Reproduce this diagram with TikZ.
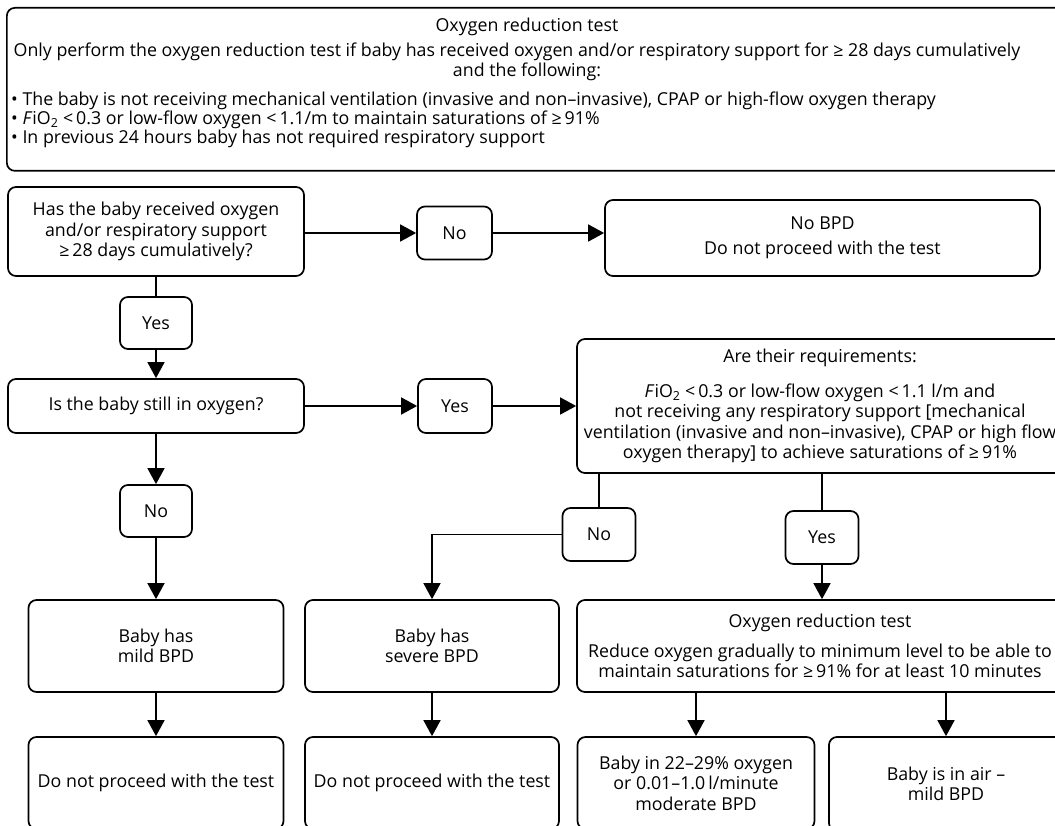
\documentclass[tikz,border=0pt]{standalone}
\usepackage{fontspec}
\setmainfont{Open Sans}
\usetikzlibrary{arrows.meta}
\begin{document}
\begin{tikzpicture}[x=1pt,y=-1pt,
  font=\fontsize{17.8}{20.5}\selectfont,
  box/.style={draw, line width=1.7pt, rounded corners=8pt, align=center, inner sep=0pt},
  txt/.style={inner sep=0pt, align=center},
  ln/.style={line width=1.6pt},
  arr/.style={line width=1.6pt, -{Triangle[length=16pt,width=17pt]}}]
\useasboundingbox (0,0) rectangle (1055,826);
\clip (0,0) rectangle (1055,826);
\fill[white] (0,0) rectangle (1055,826);
% top box
\node[box, minimum width=1060pt, minimum height=163pt, anchor=north west] (top) at (6,7) {};
\node[txt] (t1) at (527,27) {Oxygen reduction test};
\node[txt] (t2) at (517,52) {Only perform the oxygen reduction test if baby has received oxygen and/or respiratory support for ≥ 28 days cumulatively};
\node[txt] (t3) at (527,72) {and the following:};
\node[txt, anchor=west] (t4) at (11,101) {• The baby is not receiving mechanical ventilation (invasive and non–invasive), CPAP or high-flow oxygen therapy};
\node[txt, anchor=west] (t5) at (11,120) {• \textit{F}iO\textsubscript{2} <\,0.3 or low-flow oxygen <\,1.1/m to maintain saturations of ≥\,91\%};
\node[txt, anchor=west] (t6) at (11,139) {• In previous 24 hours baby has not required respiratory support};
% flow boxes
\node[box, minimum width=296pt, minimum height=89pt] (A) at (156,231.5) {Has the baby received oxygen\\and/or respiratory support\\≥\,28 days cumulatively?};
\node[box, minimum width=75pt, minimum height=53pt] (NoA) at (454.5,233) {No};
\node[box, minimum width=435pt, minimum height=76pt] (NoBPD) at (822.5,238) {No BPD\\[5pt]Do not proceed with the test};
\node[box, minimum width=72pt, minimum height=52pt] (YesA) at (156,323) {Yes};
\node[box, minimum width=296pt, minimum height=54pt] (B) at (156,406) {Is the baby still in oxygen?};
\node[box, minimum width=74pt, minimum height=54pt] (YesB) at (455,406) {Yes};
\node[box, minimum width=486pt, minimum height=134pt] (C) at (820,406) {Are their requirements:\\[14pt]\textit{F}iO\textsubscript{2} <\,0.3 or low-flow oxygen <\,1.1 l/m and\\not receiving any respiratory support [mechanical\\ventilation (invasive and non–invasive), CPAP or high flow\\oxygen therapy] to achieve saturations of ≥\,91\%};
\node[box, minimum width=72pt, minimum height=52pt] (NoL) at (156,511) {No};
\node[box, minimum width=73pt, minimum height=53pt] (NoC) at (599,534.5) {No};
\node[box, minimum width=73pt, minimum height=53pt] (YesC) at (822,537.5) {Yes};
\node[box, minimum width=255pt, minimum height=92pt] (Mild) at (156,646) {Baby has\\mild BPD};
\node[box, minimum width=254pt, minimum height=92pt] (Severe) at (432,646) {Baby has\\severe BPD};
\node[box, minimum width=486pt, minimum height=92pt] (Red) at (820,646) {Oxygen reduction test\\[9pt]Reduce oxygen gradually to minimum level to be able to\\maintain saturations for ≥\,91\% for at least 10 minutes};
\node[box, minimum width=255pt, minimum height=92pt] (Dnp1) at (156,783) {Do not proceed with the test};
\node[box, minimum width=254pt, minimum height=92pt] (Dnp2) at (432,783) {Do not proceed with the test};
\node[box, minimum width=237pt, minimum height=92pt] (Mod) at (696,783) {Baby in 22–29\% oxygen\\or 0.01–1.0\,l/minute\\moderate BPD};
\node[box, minimum width=234pt, minimum height=94pt] (Air) at (946,784) {Baby is in air –\\mild BPD};
% connectors
\draw[arr] (NoA.west -| A.east) -- (NoA.west);
\draw[arr] (NoA.east) -- (NoA.east -| NoBPD.west);
\draw[ln] (A.south) -- (YesA.north);
\draw[arr] (YesA.south) -- (B.north);
\draw[arr] (B.east) -- (YesB.west);
\draw[arr] (YesB.east) -- (YesB.east -| C.west);
\draw[arr] (B.south) -- (NoL.north);
\draw[arr] (NoL.south) -- (Mild.north);
\draw[ln] (NoC.north |- C.south) -- (NoC.north);
\draw[arr] (NoC.west) -| (Severe.north);
\draw[ln] (YesC.north |- C.south) -- (YesC.north);
\draw[arr] (YesC.south) -- (YesC.south |- Red.north);
\draw[arr] (Mild.south) -- (Dnp1.north);
\draw[arr] (Severe.south) -- (Dnp2.north);
\draw[arr] (Mod.north |- Red.south) -- (Mod.north);
\draw[arr] (Air.north |- Red.south) -- (Air.north);
\end{tikzpicture}
\end{document}
